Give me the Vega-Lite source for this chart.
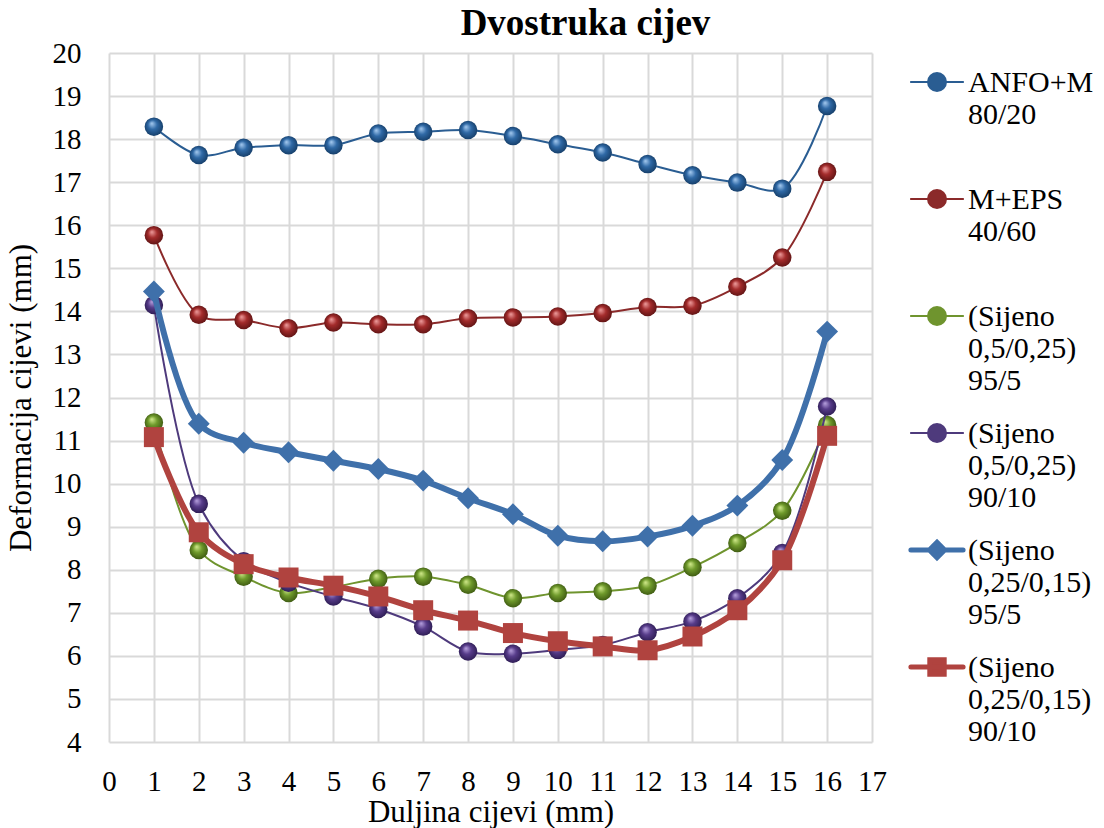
{
  "$schema": "https://vega.github.io/schema/vega-lite/v6.json",
  "width": 763,
  "height": 689,
  "autosize": {"type": "none"},
  "padding": {"left": 109, "top": 53, "right": 232, "bottom": 86},
  "background": "white",
  "title": {
    "text": "Dvostruka cijev",
    "font": "Liberation Serif, Times New Roman, DejaVu Serif, serif",
    "fontSize": 37,
    "fontWeight": "bold",
    "color": "#000000",
    "anchor": "middle",
    "frame": "group",
    "baseline": "alphabetic",
    "offset": 10,
    "dx": 95,
    "dy": 43
  },
  "config": {
    "view": {"stroke": null},
    "axis": {
      "labelFont": "Liberation Serif, Times New Roman, DejaVu Serif, serif",
      "labelFontSize": 29,
      "labelColor": "#000000",
      "titleFont": "Liberation Serif, Times New Roman, DejaVu Serif, serif",
      "titleFontSize": 31,
      "titleFontWeight": "normal",
      "titleColor": "#000000",
      "gridColor": "#d9d9d9",
      "gridWidth": 2,
      "domain": false,
      "ticks": false
    }
  },
  "data": {
    "values": [
      {"s": "ANFO+M 80/20", "x": 1, "y": 18.29}, {"s": "ANFO+M 80/20", "x": 2, "y": 17.63}, {"s": "ANFO+M 80/20", "x": 3, "y": 17.80}, {"s": "ANFO+M 80/20", "x": 4, "y": 17.86},
      {"s": "ANFO+M 80/20", "x": 5, "y": 17.86}, {"s": "ANFO+M 80/20", "x": 6, "y": 18.13}, {"s": "ANFO+M 80/20", "x": 7, "y": 18.17}, {"s": "ANFO+M 80/20", "x": 8, "y": 18.21},
      {"s": "ANFO+M 80/20", "x": 9, "y": 18.07}, {"s": "ANFO+M 80/20", "x": 10, "y": 17.88}, {"s": "ANFO+M 80/20", "x": 11, "y": 17.69}, {"s": "ANFO+M 80/20", "x": 12, "y": 17.42},
      {"s": "ANFO+M 80/20", "x": 13, "y": 17.16}, {"s": "ANFO+M 80/20", "x": 14, "y": 16.99}, {"s": "ANFO+M 80/20", "x": 15, "y": 16.85}, {"s": "ANFO+M 80/20", "x": 16, "y": 18.77},

      {"s": "M+EPS 40/60", "x": 1, "y": 15.77}, {"s": "M+EPS 40/60", "x": 2, "y": 13.92}, {"s": "M+EPS 40/60", "x": 3, "y": 13.80}, {"s": "M+EPS 40/60", "x": 4, "y": 13.61},
      {"s": "M+EPS 40/60", "x": 5, "y": 13.74}, {"s": "M+EPS 40/60", "x": 6, "y": 13.70}, {"s": "M+EPS 40/60", "x": 7, "y": 13.70}, {"s": "M+EPS 40/60", "x": 8, "y": 13.84},
      {"s": "M+EPS 40/60", "x": 9, "y": 13.86}, {"s": "M+EPS 40/60", "x": 10, "y": 13.88}, {"s": "M+EPS 40/60", "x": 11, "y": 13.96}, {"s": "M+EPS 40/60", "x": 12, "y": 14.10},
      {"s": "M+EPS 40/60", "x": 13, "y": 14.13}, {"s": "M+EPS 40/60", "x": 14, "y": 14.57}, {"s": "M+EPS 40/60", "x": 15, "y": 15.25}, {"s": "M+EPS 40/60", "x": 16, "y": 17.24},

      {"s": "(Sijeno 0,5/0,25) 95/5", "x": 1, "y": 11.42}, {"s": "(Sijeno 0,5/0,25) 95/5", "x": 2, "y": 8.46}, {"s": "(Sijeno 0,5/0,25) 95/5", "x": 3, "y": 7.84}, {"s": "(Sijeno 0,5/0,25) 95/5", "x": 4, "y": 7.46},
      {"s": "(Sijeno 0,5/0,25) 95/5", "x": 5, "y": 7.60}, {"s": "(Sijeno 0,5/0,25) 95/5", "x": 6, "y": 7.79}, {"s": "(Sijeno 0,5/0,25) 95/5", "x": 7, "y": 7.84}, {"s": "(Sijeno 0,5/0,25) 95/5", "x": 8, "y": 7.65},
      {"s": "(Sijeno 0,5/0,25) 95/5", "x": 9, "y": 7.34}, {"s": "(Sijeno 0,5/0,25) 95/5", "x": 10, "y": 7.46}, {"s": "(Sijeno 0,5/0,25) 95/5", "x": 11, "y": 7.50}, {"s": "(Sijeno 0,5/0,25) 95/5", "x": 12, "y": 7.63},
      {"s": "(Sijeno 0,5/0,25) 95/5", "x": 13, "y": 8.06}, {"s": "(Sijeno 0,5/0,25) 95/5", "x": 14, "y": 8.62}, {"s": "(Sijeno 0,5/0,25) 95/5", "x": 15, "y": 9.37}, {"s": "(Sijeno 0,5/0,25) 95/5", "x": 16, "y": 11.36},

      {"s": "(Sijeno 0,5/0,25) 90/10", "x": 1, "y": 14.15}, {"s": "(Sijeno 0,5/0,25) 90/10", "x": 2, "y": 9.53}, {"s": "(Sijeno 0,5/0,25) 90/10", "x": 3, "y": 8.20}, {"s": "(Sijeno 0,5/0,25) 90/10", "x": 4, "y": 7.70},
      {"s": "(Sijeno 0,5/0,25) 90/10", "x": 5, "y": 7.38}, {"s": "(Sijeno 0,5/0,25) 90/10", "x": 6, "y": 7.09}, {"s": "(Sijeno 0,5/0,25) 90/10", "x": 7, "y": 6.68}, {"s": "(Sijeno 0,5/0,25) 90/10", "x": 8, "y": 6.10},
      {"s": "(Sijeno 0,5/0,25) 90/10", "x": 9, "y": 6.05}, {"s": "(Sijeno 0,5/0,25) 90/10", "x": 10, "y": 6.14}, {"s": "(Sijeno 0,5/0,25) 90/10", "x": 11, "y": 6.25}, {"s": "(Sijeno 0,5/0,25) 90/10", "x": 12, "y": 6.55},
      {"s": "(Sijeno 0,5/0,25) 90/10", "x": 13, "y": 6.80}, {"s": "(Sijeno 0,5/0,25) 90/10", "x": 14, "y": 7.34}, {"s": "(Sijeno 0,5/0,25) 90/10", "x": 15, "y": 8.39}, {"s": "(Sijeno 0,5/0,25) 90/10", "x": 16, "y": 11.79},

      {"s": "(Sijeno 0,25/0,15) 95/5", "x": 1, "y": 14.46}, {"s": "(Sijeno 0,25/0,15) 95/5", "x": 2, "y": 11.39}, {"s": "(Sijeno 0,25/0,15) 95/5", "x": 3, "y": 10.95}, {"s": "(Sijeno 0,25/0,15) 95/5", "x": 4, "y": 10.73},
      {"s": "(Sijeno 0,25/0,15) 95/5", "x": 5, "y": 10.53}, {"s": "(Sijeno 0,25/0,15) 95/5", "x": 6, "y": 10.34}, {"s": "(Sijeno 0,25/0,15) 95/5", "x": 7, "y": 10.07}, {"s": "(Sijeno 0,25/0,15) 95/5", "x": 8, "y": 9.66},
      {"s": "(Sijeno 0,25/0,15) 95/5", "x": 9, "y": 9.29}, {"s": "(Sijeno 0,25/0,15) 95/5", "x": 10, "y": 8.79}, {"s": "(Sijeno 0,25/0,15) 95/5", "x": 11, "y": 8.66}, {"s": "(Sijeno 0,25/0,15) 95/5", "x": 12, "y": 8.77},
      {"s": "(Sijeno 0,25/0,15) 95/5", "x": 13, "y": 9.02}, {"s": "(Sijeno 0,25/0,15) 95/5", "x": 14, "y": 9.49}, {"s": "(Sijeno 0,25/0,15) 95/5", "x": 15, "y": 10.55}, {"s": "(Sijeno 0,25/0,15) 95/5", "x": 16, "y": 13.53},

      {"s": "(Sijeno 0,25/0,15) 90/10", "x": 1, "y": 11.08}, {"s": "(Sijeno 0,25/0,15) 90/10", "x": 2, "y": 8.87}, {"s": "(Sijeno 0,25/0,15) 90/10", "x": 3, "y": 8.13}, {"s": "(Sijeno 0,25/0,15) 90/10", "x": 4, "y": 7.82},
      {"s": "(Sijeno 0,25/0,15) 90/10", "x": 5, "y": 7.63}, {"s": "(Sijeno 0,25/0,15) 90/10", "x": 6, "y": 7.38}, {"s": "(Sijeno 0,25/0,15) 90/10", "x": 7, "y": 7.06}, {"s": "(Sijeno 0,25/0,15) 90/10", "x": 8, "y": 6.82},
      {"s": "(Sijeno 0,25/0,15) 90/10", "x": 9, "y": 6.53}, {"s": "(Sijeno 0,25/0,15) 90/10", "x": 10, "y": 6.34}, {"s": "(Sijeno 0,25/0,15) 90/10", "x": 11, "y": 6.22}, {"s": "(Sijeno 0,25/0,15) 90/10", "x": 12, "y": 6.13},
      {"s": "(Sijeno 0,25/0,15) 90/10", "x": 13, "y": 6.45}, {"s": "(Sijeno 0,25/0,15) 90/10", "x": 14, "y": 7.06}, {"s": "(Sijeno 0,25/0,15) 90/10", "x": 15, "y": 8.22}, {"s": "(Sijeno 0,25/0,15) 90/10", "x": 16, "y": 11.11}
    ]
  },
  "encoding": {
    "x": {
      "field": "x", "type": "quantitative",
      "scale": {"domain": [0, 17], "nice": false, "zero": false},
      "axis": {"title": "Duljina cijevi (mm)", "values": [0,1,2,3,4,5,6,7,8,9,10,11,12,13,14,15,16,17], "format": "d", "labelPadding": 25, "titlePadding": 1, "labelFlush": false, "labelOverlap": false}
    },
    "y": {
      "field": "y", "type": "quantitative",
      "scale": {"domain": [4, 20], "nice": false, "zero": false},
      "axis": {"title": "Deformacija cijevi (mm)", "values": [4,5,6,7,8,9,10,11,12,13,14,15,16,17,18,19,20], "format": "d", "labelPadding": 28, "titlePadding": 15, "labelFlush": false, "labelOverlap": false}
    }
  },
  "layer": [
    {
      "transform": [{"filter": "datum.s === 'ANFO+M 80/20'"}],
      "mark": {"type": "line", "interpolate": "catmull-rom", "strokeWidth": 2},
      "encoding": {
        "color": {
          "field": "s", "type": "nominal",
          "scale": {
            "domain": ["ANFO+M 80/20", "M+EPS 40/60", "(Sijeno 0,5/0,25) 95/5", "(Sijeno 0,5/0,25) 90/10", "(Sijeno 0,25/0,15) 95/5", "(Sijeno 0,25/0,15) 90/10"],
            "range": ["#2a5d92", "#8b2a2a", "#6f942e", "#4e3a7c", "#3f70aa", "#b0433f"]
          },
          "legend": {
            "title": null,
            "orient": "none",
            "legendX": 796,
            "legendY": 15,
            "padding": 0,
            "gridAlign": "all",
            "rowPadding": 19,
            "symbolSize": 324,
            "symbolOffset": 17,
            "labelOffset": 16,
            "labelFont": "Liberation Serif, Times New Roman, DejaVu Serif, serif",
            "labelFontSize": 30,
            "labelLineHeight": 37,
            "labelColor": "#000000",
            "labelLimit": 400,
            "labelBaseline": "top",
            "labelExpr": "split(datum.label, ' ')",
            "encode": {
              "symbols": {
                "update": {
                  "shape": {"signal": "['M-2.9,0H2.9M1,0A1,1 0 1,1 -1,0A1,1 0 1,1 1,0Z','M-2.9,0H2.9M1,0A1,1 0 1,1 -1,0A1,1 0 1,1 1,0Z','M-2.9,0H2.9M1,0A1,1 0 1,1 -1,0A1,1 0 1,1 1,0Z','M-2.9,0H2.9M1,0A1,1 0 1,1 -1,0A1,1 0 1,1 1,0Z','M-2.9,0H2.9M0,-0.85L0.85,0L0,0.85L-0.85,0Z','M-2.9,0H2.9M-0.8,-0.8H0.8V0.8H-0.8Z'][indexof(domain('color'), datum.value)]"},
                  "fill": {"signal": "scale('color', datum.value)"},
                  "stroke": {"signal": "scale('color', datum.value)"},
                  "strokeWidth": {"signal": "indexof(domain('color'), datum.value) >= 4 ? 5 : 2"},
                  "strokeCap": {"value": "round"},
                  "opacity": {"value": 1},
                  "size": {"value": 324},
                  "y": {"value": 14}
                }
              },
              "labels": {
                "update": {"y": {"value": 0}}
              }
            }
          }
        }
      }
    },
    {
      "transform": [{"filter": "datum.s === 'ANFO+M 80/20'"}],
      "mark": {"type": "point", "shape": "circle", "filled": true, "size": 342, "opacity": 1, "strokeWidth": 0,
        "fill": {"gradient": "radial", "x1": 0.38, "y1": 0.32, "r1": 0, "x2": 0.5, "y2": 0.5, "r2": 0.55,
          "stops": [{"offset": 0, "color": "#a9cdf2"}, {"offset": 0.45, "color": "#2f69a6"}, {"offset": 1, "color": "#133a63"}]}}
    },
    {
      "transform": [{"filter": "datum.s === 'M+EPS 40/60'"}],
      "mark": {"type": "line", "interpolate": "catmull-rom", "strokeWidth": 2},
      "encoding": {"color": {"field": "s", "type": "nominal"}}
    },
    {
      "transform": [{"filter": "datum.s === 'M+EPS 40/60'"}],
      "mark": {"type": "point", "shape": "circle", "filled": true, "size": 342, "opacity": 1, "strokeWidth": 0,
        "fill": {"gradient": "radial", "x1": 0.38, "y1": 0.32, "r1": 0, "x2": 0.5, "y2": 0.5, "r2": 0.55,
          "stops": [{"offset": 0, "color": "#f0a0a0"}, {"offset": 0.45, "color": "#a32b2b"}, {"offset": 1, "color": "#5a1212"}]}}
    },
    {
      "transform": [{"filter": "datum.s === '(Sijeno 0,5/0,25) 95/5'"}],
      "mark": {"type": "line", "interpolate": "catmull-rom", "strokeWidth": 2},
      "encoding": {"color": {"field": "s", "type": "nominal"}}
    },
    {
      "transform": [{"filter": "datum.s === '(Sijeno 0,5/0,25) 95/5'"}],
      "mark": {"type": "point", "shape": "circle", "filled": true, "size": 342, "opacity": 1, "strokeWidth": 0,
        "fill": {"gradient": "radial", "x1": 0.38, "y1": 0.32, "r1": 0, "x2": 0.5, "y2": 0.5, "r2": 0.55,
          "stops": [{"offset": 0, "color": "#d4ec8e"}, {"offset": 0.45, "color": "#6f9a2b"}, {"offset": 1, "color": "#3a5510"}]}}
    },
    {
      "transform": [{"filter": "datum.s === '(Sijeno 0,5/0,25) 90/10'"}],
      "mark": {"type": "line", "interpolate": "catmull-rom", "strokeWidth": 2},
      "encoding": {"color": {"field": "s", "type": "nominal"}}
    },
    {
      "transform": [{"filter": "datum.s === '(Sijeno 0,5/0,25) 90/10'"}],
      "mark": {"type": "point", "shape": "circle", "filled": true, "size": 342, "opacity": 1, "strokeWidth": 0,
        "fill": {"gradient": "radial", "x1": 0.38, "y1": 0.32, "r1": 0, "x2": 0.5, "y2": 0.5, "r2": 0.55,
          "stops": [{"offset": 0, "color": "#b9a3e0"}, {"offset": 0.45, "color": "#573c8a"}, {"offset": 1, "color": "#2a1a4f"}]}}
    },
    {
      "transform": [{"filter": "datum.s === '(Sijeno 0,25/0,15) 95/5'"}],
      "mark": {"type": "line", "interpolate": "catmull-rom", "strokeWidth": 6},
      "encoding": {"color": {"field": "s", "type": "nominal"}}
    },
    {
      "transform": [{"filter": "datum.s === '(Sijeno 0,25/0,15) 95/5'"}],
      "mark": {"type": "point", "shape": "diamond", "filled": true, "size": 480, "opacity": 1, "strokeWidth": 0, "fill": "#3f70aa"}
    },
    {
      "transform": [{"filter": "datum.s === '(Sijeno 0,25/0,15) 90/10'"}],
      "mark": {"type": "line", "interpolate": "catmull-rom", "strokeWidth": 6},
      "encoding": {"color": {"field": "s", "type": "nominal"}}
    },
    {
      "transform": [{"filter": "datum.s === '(Sijeno 0,25/0,15) 90/10'"}],
      "mark": {"type": "point", "shape": "square", "filled": true, "size": 400, "opacity": 1, "strokeWidth": 0, "fill": "#b0433f"}
    }
  ]
}
